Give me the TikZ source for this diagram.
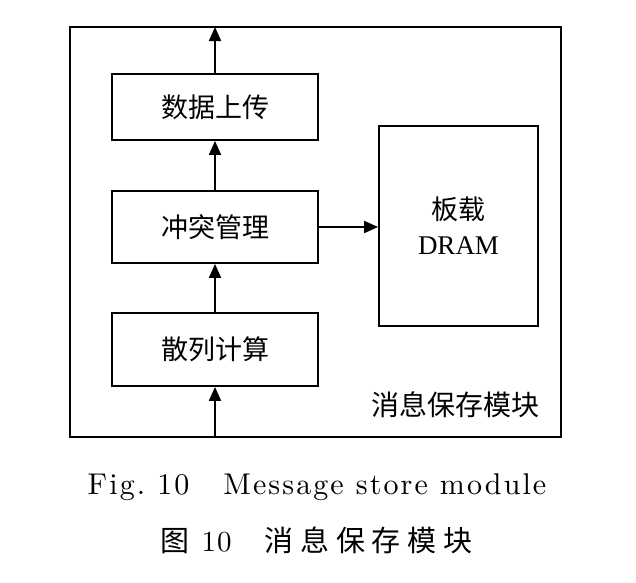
\documentclass[tikz,border=0pt]{standalone}
\usepackage{fontspec}
\setmainfont{Liberation Serif}
\newfontfamily\cjk{Noto Sans CJK SC}
\newfontfamily\cjkcap[LetterSpace=23]{Noto Sans CJK SC}
\newfontfamily\lmcap[LetterSpace=7]{lmroman10-regular.otf}
\newfontfamily\lmnum[LetterSpace=4]{lmroman10-regular.otf}
\usetikzlibrary{arrows.meta}
\begin{document}
\begin{tikzpicture}[x=1pt,y=-1pt,
  box/.style={draw,line width=1.8pt,inner sep=0pt},
  arr/.style={line width=1.8pt,-{Triangle[length=14pt,width=12pt]}},
  txt/.style={font=\fontsize{27}{32}\selectfont\cjk}]
\useasboundingbox (0,0) rectangle (636,582);
\node[box,minimum width=491pt,minimum height=410pt] (outer) at (315.5,232) {};
\node[box,minimum width=206pt,minimum height=66pt,txt] (up) at (215,107) {数据上传};
\node[box,minimum width=206pt,minimum height=72pt,txt] (cm) at (215,227) {冲突管理};
\node[box,minimum width=159pt,minimum height=200pt,align=center,font=\fontsize{27}{35}\selectfont] (dram) at (458.5,226) {{\cjk 板载}\\DRAM};
\node[box,minimum width=206pt,minimum height=73pt,txt] (hash) at (215,349.5) {散列计算};
\node[font=\fontsize{28}{32}\selectfont\cjk,anchor=east] (lbl) at (543,405) {消息保存模块};
\coordinate (tin) at (215,437);
\coordinate (tout) at (215,27);
\draw[arr] (tin) -- (hash.south);
\draw[arr] (hash.north) -- (cm.south);
\draw[arr] (cm.north) -- (up.south);
\draw[arr] (up.north) -- (tout);
\draw[arr] (cm.east) -- (cm.east -| dram.west);
\node[font=\fontsize{30}{32}\selectfont\lmcap] (cap1) at (317,487) {Fig.\ 10\hspace{34pt}Message store module};
\node[font=\fontsize{29}{32}\selectfont,anchor=west] (cap2) at (157,540) {{\cjkcap 图}\hspace{12pt}{\lmnum 10}\hspace{33pt}{\cjkcap 消息保存模块}};
\end{tikzpicture}
\end{document}
